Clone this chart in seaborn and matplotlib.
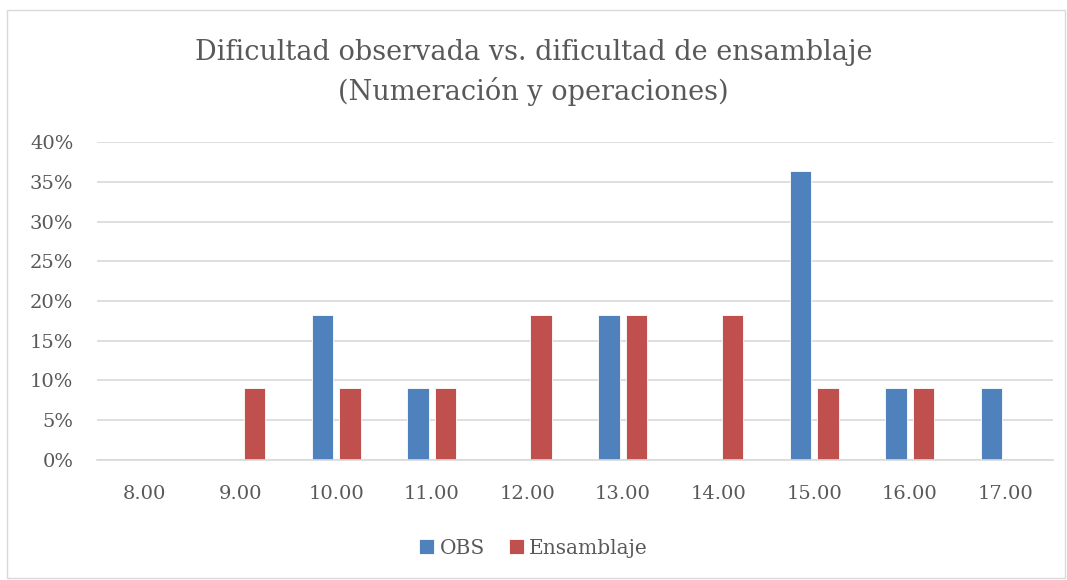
import pandas as pd
import seaborn as sns
import matplotlib.pyplot as plt
from matplotlib.patches import Rectangle
from matplotlib.ticker import PercentFormatter

# datos del grafico
categorias = ['8.00', '9.00', '10.00', '11.00', '12.00', '13.00', '14.00', '15.00', '16.00', '17.00']
obs = [0, 0, 0.1818, 0.0909, 0, 0.1818, 0, 0.3636, 0.0909, 0.0909]
ensamblaje = [0, 0.0909, 0.0909, 0.0909, 0.1818, 0.1818, 0.1818, 0.0909, 0.0909, 0]
series = ['OBS', 'Ensamblaje']

df = pd.DataFrame({
    'dificultad': categorias * 2,
    'valor': obs + ensamblaje,
    'serie': [series[0]] * len(obs) + [series[1]] * len(ensamblaje),
})

sns.set_theme(style="white")
plt.rcParams['font.family'] = ['DejaVu Serif']
texto = '#595959'

fig = plt.figure(figsize=(10.67, 5.8), dpi=100)
ax = fig.add_axes([0.091, 0.207, 0.896, 0.548])

sns.barplot(data=df, x='dificultad', y='valor', hue='serie', order=categorias,
            hue_order=series, palette=['#4F81BD', '#C0504D'], width=0.575, gap=0.22,
            saturation=1, edgecolor='#ffffff', linewidth=0.6, ax=ax)

ax.set_ylim(0, 0.4)
ax.set_xlim(-0.5, len(categorias) - 0.5)
ax.set_yticks([i * 0.05 for i in range(9)])
ax.yaxis.set_major_formatter(PercentFormatter(1.0, decimals=0))
ax.grid(axis='y', color='#D9D9D9', linewidth=1.2)
ax.set_axisbelow(True)
for s in ['top', 'right', 'left']:
    ax.spines[s].set_visible(False)
ax.spines['bottom'].set_color('#D9D9D9')
ax.spines['bottom'].set_linewidth(1.2)
ax.tick_params(axis='both', length=0, labelsize=14, colors=texto)
ax.tick_params(axis='x', pad=18)
ax.tick_params(axis='y', pad=17)
ax.set_xlabel('')
ax.set_ylabel('')

fig.text(0.5, 0.875, 'Dificultad observada vs. dificultad de ensamblaje\n(Numeración y operaciones)',
         ha='center', va='center', fontsize=19.5, color=texto, linespacing=1.5)

ax.legend(loc='center', bbox_to_anchor=(0.5, 0.055), bbox_transform=fig.transFigure,
          ncol=2, frameon=False, fontsize=14.5, labelcolor=texto, handlelength=0.75,
          handleheight=0.75, handletextpad=0.25, columnspacing=1.2)

fig.patches.append(Rectangle((0.007, 0.003), 0.991, 0.98, transform=fig.transFigure,
                             fill=False, edgecolor='#D9D9D9', linewidth=1))

fig.savefig('out.png', dpi=100)
